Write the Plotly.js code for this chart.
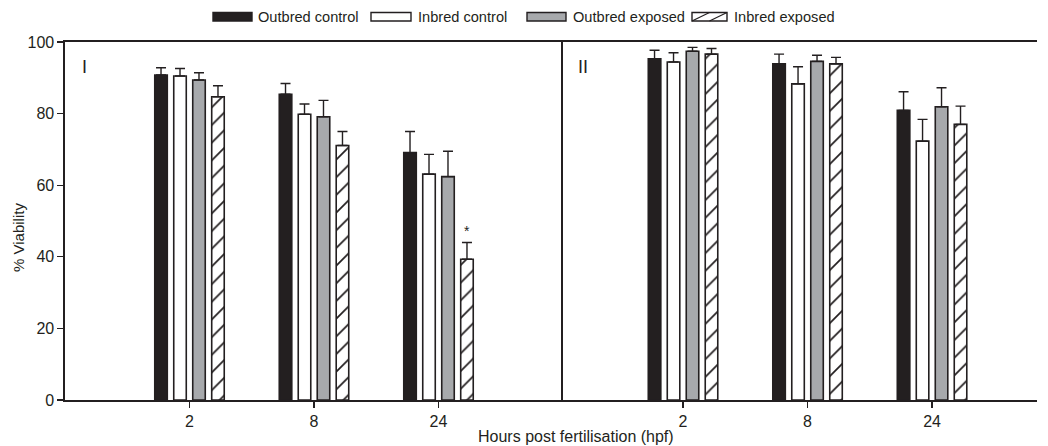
<!DOCTYPE html>
<html>
<head>
<meta charset="utf-8">
<script src="https://cdn.plot.ly/plotly-3.0.1.min.js"></script>
<style>html,body{margin:0;padding:0;background:#fff;}#chart{width:1048px;height:446px;}</style>
</head>
<body>
<div id="chart"></div>
<script>
// ---- Data ----
var categories = ['2', '8', '24'];
var seriesNames = ['Outbred control', 'Inbred control', 'Outbred exposed', 'Inbred exposed'];

// Panel I
var p1_outbredControl = [90.8, 85.4, 69.1];
var p1_outbredControlErr = [2.0, 3.0, 5.9];
var p1_inbredControl = [90.5, 79.8, 63.1];
var p1_inbredControlErr = [2.1, 2.9, 5.5];
var p1_outbredExposed = [89.4, 79.1, 62.4];
var p1_outbredExposedErr = [2.0, 4.6, 7.1];
var p1_inbredExposed = [84.7, 71.1, 39.3];
var p1_inbredExposedErr = [3.1, 3.9, 4.7];

// Panel II
var p2_outbredControl = [95.3, 93.9, 80.9];
var p2_outbredControlErr = [2.4, 2.7, 5.2];
var p2_inbredControl = [94.4, 88.3, 72.3];
var p2_inbredControlErr = [2.6, 4.8, 6.1];
var p2_outbredExposed = [97.4, 94.6, 81.9];
var p2_outbredExposedErr = [1.1, 1.7, 5.3];
var p2_inbredExposed = [96.6, 93.9, 77.0];
var p2_inbredExposedErr = [1.6, 1.8, 5.1];

var yTicks = [0, 20, 40, 60, 80, 100];
var panelLabels = ['I', 'II'];
var xTitle = 'Hours post fertilisation (hpf)';
var yTitle = '% Viability';
// significance marker: panel I, series "Inbred exposed", category index 2
var sigMarker = {panel: 1, series: 3, cat: 2, text: '*'};

// ---- Styles ----
var DARK = '#231f20';
var GREY = '#a7a9ac';
var FONT = 'Liberation Sans, Arial, sans-serif';
var FS = 16;
var styles = [
  {color: DARK, pattern: null},
  {color: '#ffffff', pattern: null},
  {color: GREY, pattern: null},
  {color: '#ffffff', pattern: {shape: '/', size: 12.5, solidity: 0.14, fgcolor: DARK, bgcolor: '#ffffff', fillmode: 'replace'}}
];

var panel1 = [[p1_outbredControl, p1_outbredControlErr], [p1_inbredControl, p1_inbredControlErr],
              [p1_outbredExposed, p1_outbredExposedErr], [p1_inbredExposed, p1_inbredExposedErr]];
var panel2 = [[p2_outbredControl, p2_outbredControlErr], [p2_inbredControl, p2_inbredControlErr],
              [p2_outbredExposed, p2_outbredExposedErr], [p2_inbredExposed, p2_inbredExposedErr]];

function makeTraces(panel, xa, ya) {
  return panel.map(function (d, i) {
    var m = {color: styles[i].color, line: {color: DARK, width: 1.6}};
    if (styles[i].pattern) m.pattern = styles[i].pattern;
    return {
      type: 'bar', name: seriesNames[i], x: categories, y: d[0],
      xaxis: xa, yaxis: ya, marker: m, showlegend: false,
      error_y: {type: 'data', array: d[1], arrayminus: d[1].map(function(){return 0;}), symmetric: false,
                color: DARK, thickness: 1.4, width: 5}
    };
  });
}

var traces = makeTraces(panel1, 'x', 'y').concat(makeTraces(panel2, 'x2', 'y2'));

// geometry (pixels)
var W = 1048, H = 446, ML = 65, MR = 11, MT = 42, MB = 46;
var PW = W - ML - MR, PH = H - MT - MB;
function pxX(px) { return (px - ML) / PW; }
function pxY(py) { return (H - MB - py) / PH; }
var split = pxX(563);

var bargap = 0.39, bargroupgap = 0.34;
var pitch = (1 - bargap) / 4;

var annotations = [
  {xref: 'paper', yref: 'paper', x: pxX(576), y: pxY(436), text: xTitle, showarrow: false,
   font: {family: FONT, size: FS, color: DARK}, xanchor: 'center', yanchor: 'middle'},
  {xref: 'paper', yref: 'paper', x: pxX(80), y: pxY(67), text: panelLabels[0], showarrow: false,
   font: {family: FONT, size: 18, color: DARK}, xanchor: 'left', yanchor: 'middle'},
  {xref: 'paper', yref: 'paper', x: pxX(576), y: pxY(67), text: panelLabels[1], showarrow: false,
   font: {family: FONT, size: 18, color: DARK}, xanchor: 'left', yanchor: 'middle'},
  {xref: 'paper', yref: 'paper', x: pxX(18), y: pxY(238), text: yTitle, showarrow: false, textangle: -90,
   font: {family: FONT, size: 15, color: DARK}, xanchor: 'center', yanchor: 'middle'}
];
var sigPanel = sigMarker.panel === 1 ? panel1 : panel2;
annotations.push({
  xref: sigMarker.panel === 1 ? 'x' : 'x2', yref: sigMarker.panel === 1 ? 'y' : 'y2',
  x: sigMarker.cat + (sigMarker.series - 1.5) * pitch,
  y: sigPanel[sigMarker.series][0][sigMarker.cat] + sigPanel[sigMarker.series][1][sigMarker.cat],
  text: sigMarker.text, showarrow: false, yanchor: 'bottom', yshift: 1,
  font: {family: FONT, size: 14, color: DARK}
});

// custom legend (wide boxes)
var legendItems = [
  {x0: 213, x1: 252, tx: 256},
  {x0: 371, x1: 411, tx: 416},
  {x0: 527, x1: 566, tx: 571},
  {x0: 692, x1: 727, tx: 732}
];
var shapes = [];
var ly0 = 12.5, ly1 = 21;
legendItems.forEach(function (it, i) {
  shapes.push({type: 'rect', xref: 'paper', yref: 'paper', x0: pxX(it.x0), x1: pxX(it.x1),
    y0: pxY(ly1), y1: pxY(ly0), fillcolor: styles[i].color, line: {color: DARK, width: 1.4}});
  if (styles[i].pattern) {
    var step = (it.x1 - it.x0) / 2;
    for (var k = 0; k < 2; k++) {
      var a = it.x0 + k * step;
      shapes.push({type: 'line', xref: 'paper', yref: 'paper', x0: pxX(a), y0: pxY(ly1),
        x1: pxX(a + step), y1: pxY(ly0), line: {color: DARK, width: 1.2}});
    }
  }
  annotations.push({xref: 'paper', yref: 'paper', x: pxX(it.tx), y: pxY(17), text: seriesNames[i],
    showarrow: false, xanchor: 'left', yanchor: 'middle', font: {family: FONT, size: 14.6, color: DARK}});
});

var axisCommon = {
  showgrid: false, zeroline: false, showline: true, linecolor: DARK, linewidth: 1.6,
  ticks: 'outside', ticklen: 6, tickwidth: 1.2, tickcolor: DARK,
  tickfont: {family: FONT, size: FS, color: DARK}
};

var layout = {
  width: W, height: H, margin: {l: ML, r: MR, t: MT, b: MB},
  paper_bgcolor: '#ffffff', plot_bgcolor: '#ffffff',
  barmode: 'group', bargap: bargap, bargroupgap: bargroupgap,
  showlegend: false,
  xaxis: Object.assign({}, axisCommon, {domain: [0, split], type: 'category', range: [-1, 3],
    anchor: 'y', mirror: true}),
  xaxis2: Object.assign({}, axisCommon, {domain: [split, 1], type: 'category', range: [-0.964, 2.843],
    anchor: 'y2', mirror: true}),
  yaxis: Object.assign({}, axisCommon, {range: [0, 100], tickvals: yTicks, anchor: 'x'}),
  yaxis2: Object.assign({}, axisCommon, {range: [0, 100], matches: 'y', anchor: 'x2',
    ticks: '', showticklabels: false}),
  shapes: shapes,
  annotations: annotations,
  font: {family: FONT, color: DARK}
};

Plotly.newPlot('chart', traces, layout, {displayModeBar: false, staticPlot: true});
</script>
</body>
</html>
